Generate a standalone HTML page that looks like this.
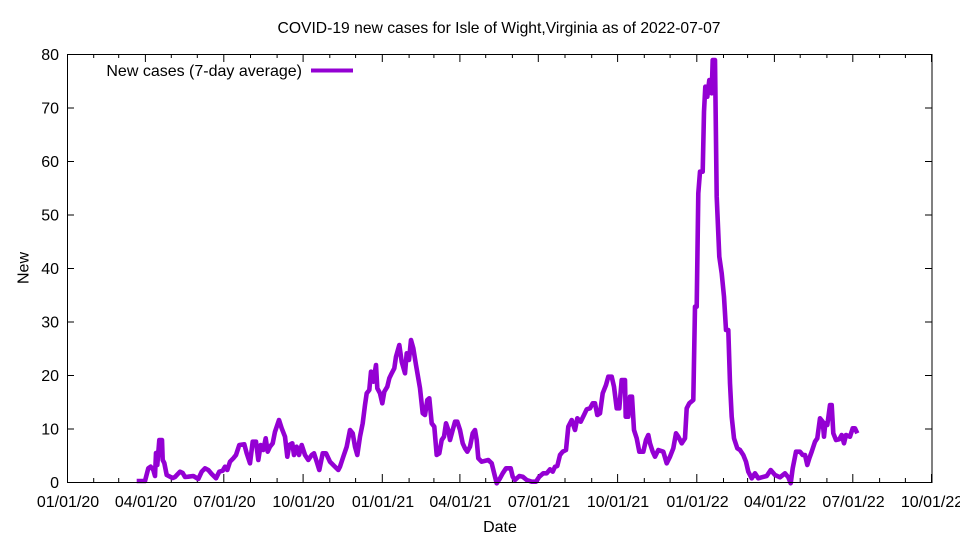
<!DOCTYPE html>
<html>
<head>
<meta charset="utf-8">
<style>
html,body{margin:0;padding:0;background:#fff;}
svg{display:block;}
text{font-family:"Liberation Sans",Arial,sans-serif;font-size:16px;fill:#000;}
</style>
</head>
<body>
<svg width="960" height="540" viewBox="0 0 960 540" xmlns="http://www.w3.org/2000/svg">
<rect x="0" y="0" width="960" height="540" fill="#fff"/>
<text x="499" y="33" text-anchor="middle" textLength="443" lengthAdjust="spacingAndGlyphs">COVID-19 new cases for Isle of Wight,Virginia as of 2022-07-07</text>

<g stroke="#000" stroke-width="1" fill="none">
<path d="M67,482.5h7 M67,429h7 M67,375.5h7 M67,322h7 M67,268.5h7 M67,215h7 M67,161.5h7 M67,108h7 M67,54.5h7
M932,482.5h-7 M932,429h-7 M932,375.5h-7 M932,322h-7 M932,268.5h-7 M932,215h-7 M932,161.5h-7 M932,108h-7 M932,54.5h-7"/>
<path d="M67.5,482v-8 M145.4,482v-8 M223.8,482v-8 M303.1,482v-8 M382.3,482v-8 M459.9,482v-8 M538.3,482v-8 M617.6,482v-8 M696.8,482v-8 M774.4,482v-8 M852.8,482v-8 M931.5,482v-8
M67.5,54v8 M145.4,54v8 M223.8,54v8 M303.1,54v8 M382.3,54v8 M459.9,54v8 M538.3,54v8 M617.6,54v8 M696.8,54v8 M774.4,54v8 M852.8,54v8 M931.5,54v8"/>
<path d="M93.7,482v-4 M118.7,482v-4 M171.3,482v-4 M197.3,482v-4 M250.5,482v-4 M277.1,482v-4 M329.8,482v-4 M355.6,482v-4 M409.1,482v-4 M433.9,482v-4 M485.7,482v-4 M512.4,482v-4 M565.0,482v-4 M591.7,482v-4 M644.3,482v-4 M670.1,482v-4 M723.5,482v-4 M747.6,482v-4 M800.2,482v-4 M826.9,482v-4 M879.6,482v-4 M905.4,482v-4
M93.7,54v4 M118.7,54v4 M171.3,54v4 M197.3,54v4 M250.5,54v4 M277.1,54v4 M329.8,54v4 M355.6,54v4 M409.1,54v4 M433.9,54v4 M485.7,54v4 M512.4,54v4 M565.0,54v4 M591.7,54v4 M644.3,54v4 M670.1,54v4 M723.5,54v4 M747.6,54v4 M800.2,54v4 M826.9,54v4 M879.6,54v4 M905.4,54v4"/>
</g>

<g text-anchor="end">
<text x="59" y="488">0</text>
<text x="59" y="434.5">10</text>
<text x="59" y="381">20</text>
<text x="59" y="327.5">30</text>
<text x="59" y="274">40</text>
<text x="59" y="220.5">50</text>
<text x="59" y="167">60</text>
<text x="59" y="113.5">70</text>
<text x="59" y="60">80</text>
</g>

<g text-anchor="middle">
<text x="68" y="507">01/01/20</text>
<text x="146" y="507">04/01/20</text>
<text x="224.5" y="507">07/01/20</text>
<text x="303.5" y="507">10/01/20</text>
<text x="383" y="507">01/01/21</text>
<text x="460.5" y="507">04/01/21</text>
<text x="539" y="507">07/01/21</text>
<text x="618" y="507">10/01/21</text>
<text x="697.5" y="507">01/01/22</text>
<text x="775" y="507">04/01/22</text>
<text x="853.5" y="507">07/01/22</text>
<text x="932" y="507">10/01/22</text>
</g>

<text x="500" y="532" text-anchor="middle">Date</text>
<text transform="translate(28.5,268) rotate(-90)" text-anchor="middle">New</text>

<text x="302" y="76" text-anchor="end">New cases (7-day average)</text>
<line x1="311" y1="70.5" x2="353" y2="70.5" stroke="#9400d3" stroke-width="4"/>

<polyline fill="none" stroke="#9400d3" stroke-width="4.6" stroke-linejoin="round" stroke-linecap="butt" points="
136.7,481 145,481 148.3,468.3 150.7,466.7 153.3,470 155,476 156,453 157.3,465 159.3,440 162,440 162.7,460 164.3,463 166.7,475 170,476.7 172.7,478 175,477 180,471.7 182.7,473 185,477 188.3,476.7 193.3,476 198.3,479 201.7,471.7 205,468.3 208.3,470 211.7,474 216,478.3 219.3,471.7 222.7,470.7 225,466.7 227.3,470 230,461.7 233.3,458.3 236,455 239.3,445 244.3,444.3 246.7,453.3 250,463.3 252.7,441.7 256,441.7 258.3,460 260.7,445 263.3,450 265.7,438.3 267.7,451.7 270,446.7 272.7,443.3 275,431.7 279,420 281.7,428.3 285,436.7 287.3,456.7 289.3,445 292.3,443.3 294,455 296.7,446.7 299,455 301.7,445 305,455 308.3,460 311.7,455 314,453.3 316.7,461.7 319.3,470 322.7,453.3 326,453.3 330,461.7 335,466.7 338.3,470
340,466.7 343.3,456.7 346.7,446.7 350,430 352.7,433.3 355,446.7 357.3,455 360,436.7 362.7,423.3 365,405 366.7,393.3 369.3,390 371,371.7 373.3,381.7 376,365 377.3,388.3 380,393.3 382.3,403.3 384.3,391.7 387.3,386.7 389.3,378.3 391.7,373.3 394.3,368.3 396,356.7 399.3,345 401.7,361.7 405,373.3 406.7,353.3 409,360 411,340 413.3,348.3 416,365 418.3,378.3 420,388.3 422.7,413.3 425,415 427.3,400 429.3,398.3 431.7,423.3 434.3,426.7 436.7,455 439.3,453.3 441.7,440 444,436.7 446,423.3 448.3,430 450,440 452.7,430 455,421.7 457.3,421.7 460,430 462.7,443.3 465,448.3 467.3,451.7 470,446.7 472.7,433.3 475,430 476.7,440 478.3,458.3
481.7,461.7 488.3,460 491.7,463.3 495,476.7 496.7,483.3 500,478.3 502.7,473.3 506,468.3 510.7,468.3 512.7,476.7 515,480 519.3,476 522.7,476.7 526.7,480 531.7,481.7 536,481.7 539.3,476.7 543.3,473.3 546.7,473.3 550,469.3 552.7,471.7 555,466.7 557.3,466 560,455 562.7,451.7 566,450 568.3,426.7 571.7,420 575,430 577.3,418.3 580.7,421.7 584,415 586.7,409.3 590,408.3 592.7,403.3 595,403.3 597.3,415 600,413.3 602.7,393.3 606,385 608.3,376.7 611.7,376.7 614,386.7 616.7,408.3 619.3,408.3 621.7,380 625,380 625.7,416.7 628.3,416.7 630,396.7 632,396.7 634,430 636.7,438.3 639.3,451.7 643.3,451.7 646,440 648.3,435 650,443.3 652.7,451.7 655,456.7 658.3,450
663.3,451.7 666.7,463.3 670,456.7 673.3,448.3 676,433.3 678.3,436.7 681.7,443.3 685,438.3 686.7,408.3 689.3,403.3 693.3,400 695,306.7 696.7,306.7 698.3,193.3 700,171.7 702.7,171.7 704,111.7 705.3,86.7 707.3,96.7 709.3,80 711.7,93.3 712.7,60 715,60 716.7,196.7 719.3,256.7 721.7,273.3 724,296.7 726,330 728.3,330 730,383.3
731.7,416.7 734,438.3 737.3,448.3 740,450 743.3,455 746,461.7 748.3,471.7 751.7,478.3 755,473.3 758.3,478.3 761.7,477.3 766.7,476 770.7,470 775,475 780,477.3 785,473.3 788.3,477.3 790.7,483.3 792.7,468.3 796,451.7 800,451.7 802.7,455 805,455 807.3,465 809.3,458.3 811.7,451.7 815,441.7 817.3,438.3 820,418.3 822.7,421.7 824,436.7 825.3,423.3 827.3,425 830,405 831.7,405 833.3,433.3 836,440 839.3,439.3 841.7,435 844,443.3 846,435 850,436.7 852.7,428.3 855,428.3 857.3,433.3"/>

<rect x="67.5" y="54.5" width="864.5" height="428" fill="none" stroke="#000" stroke-width="1"/>
</svg>
</body>
</html>
